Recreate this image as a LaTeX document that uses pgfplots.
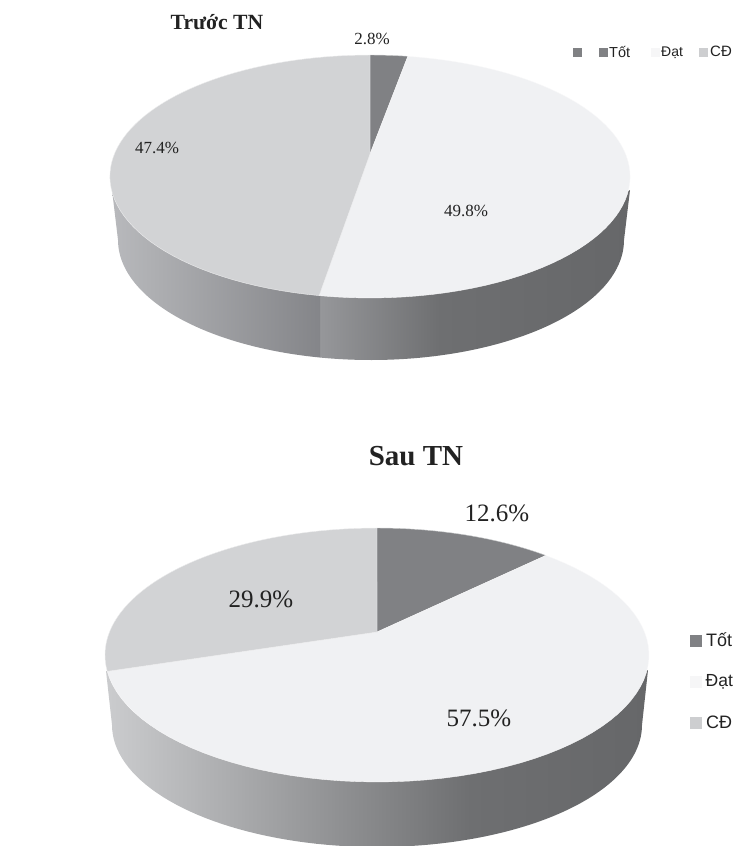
\documentclass[border=0pt]{standalone}
\usepackage{pgfplots}
\pgfplotsset{compat=1.18}
\usepackage{fontspec}
\setmainfont{Liberation Serif}
\newfontfamily\legfont{Liberation Sans}
\definecolor{tot}{HTML}{808184}
\definecolor{dat}{HTML}{F0F1F3}
\definecolor{cd}{HTML}{D2D3D5}
\definecolor{txt}{HTML}{222222}
\definecolor{legdat}{HTML}{F6F6F7}
\definecolor{legcd}{HTML}{CDCED0}
\definecolor{ra}{HTML}{B8B9BC}
\definecolor{rb}{HTML}{848589}
\definecolor{rc}{HTML}{96979A}
\definecolor{rd}{HTML}{6E6F71}
\definecolor{re}{HTML}{666769}
\definecolor{rf}{HTML}{CBCCCE}
\newcommand\fs[1]{\fontsize{#1}{#1}\selectfont}
% one slice of the top face: from / to cumulative percent, colour, then cx vy A B k
\newcommand\slice[8]{%
  \addplot[fill=#3,draw=white!60!#3,line width=0.4pt,line join=round,domain=#1:#2,samples=70,no markers]
  ({#4+#6*sin(3.6*x)/(1+#8*cos(3.6*x))},{#5-#7*cos(3.6*x)/(1+#8*cos(3.6*x))})
  -- (axis cs:#4,#5) -- cycle;}
\newcommand\topslice[3]{\slice{#1}{#2}{#3}{370}{154}{255.6}{117.3}{0.1852}}
\newcommand\botslice[3]{\slice{#1}{#2}{#3}{377}{632}{267.5}{122.8}{0.1811}}
% one shaded band of the rim: angle from/to, left colour, right colour, cx cy a b, closing path
\newcommand\rim[9]{%
  \addplot[left color=#3,right color=#4,draw=none,domain=#1:#2,samples=50,no markers]
  ({#5+#7*cos(x)},{#6+#8*sin(x)}) #9 -- cycle;}
\begin{document}
\begin{tikzpicture}[x=1pt,y=1pt]
\useasboundingbox (0,0) rectangle (733,846);
\clip (0,0) rectangle (733,846);
\begin{axis}[at={(0,0)},anchor=south west,scale only axis,width=733pt,height=846pt,
  xmin=0,xmax=733,ymin=0,ymax=846,y dir=reverse,hide axis,clip=false]
% ---- Truoc TN: rim
\rim{0}{74.2}{rd}{re}{371}{240}{253}{120}{-- (axis cs:440,285) -- (axis cs:630,190)}
\rim{74.2}{101.6}{rc}{rd}{371}{240}{253}{120}{-- (axis cs:320,290) -- (axis cs:440,285)}
\rim{101.6}{180}{ra}{rb}{371}{240}{253}{120}{-- (axis cs:112,190) -- (axis cs:320,290)}
% top face: 2.8, 49.8, 47.4 percent
\topslice{0}{2.8}{tot}
\topslice{2.8}{52.6}{dat}
\topslice{52.6}{100}{cd}
% ---- Sau TN: rim
\rim{0}{69.5}{rd}{re}{377}{725}{265}{122}{-- (axis cs:470,760) -- (axis cs:648,670)}
\rim{69.5}{180}{rf}{rd}{377}{725}{265}{122}{-- (axis cs:106,671) -- (axis cs:470,760)}
% top face: 12.6, 57.5, 29.9 percent
\botslice{0}{12.6}{tot}
\botslice{12.6}{70.1}{dat}
\botslice{70.1}{100}{cd}
% legend marks
\addplot[only marks,mark=square*,mark size=4.2pt,color=tot] coordinates {(577,52) (603,52)};
\addplot[only marks,mark=square*,mark size=4.2pt,color=legdat] coordinates {(655,52)};
\addplot[only marks,mark=square*,mark size=4.2pt,color=legcd] coordinates {(703,52)};
\addplot[only marks,mark=square*,mark size=5.6pt,color=tot] coordinates {(696,640.5)};
\addplot[only marks,mark=square*,mark size=5.6pt,color=legdat] coordinates {(696,682)};
\addplot[only marks,mark=square*,mark size=5.6pt,color=legcd] coordinates {(696,723)};
% texts
\node[text=txt,font=\bfseries\fs{21.7}] at (axis cs:217,22) {Trước TN};
\node[text=txt,font=\fs{17}] at (axis cs:372,39) {2.8\%};
\node[text=txt,font=\fs{17}] at (axis cs:157,148) {47.4\%};
\node[text=txt,font=\fs{17}] at (axis cs:466,211) {49.8\%};
\node[text=txt,font=\bfseries\fs{29}] at (axis cs:416,456) {Sau TN};
\node[text=txt,font=\fs{25}] at (axis cs:497,513) {12.6\%};
\node[text=txt,font=\fs{25}] at (axis cs:261,599) {29.9\%};
\node[text=txt,font=\fs{25}] at (axis cs:479,718) {57.5\%};
\node[text=txt,font=\legfont\fs{14.5},anchor=west,inner sep=0pt] at (axis cs:609,52) {Tốt};
\node[text=txt,font=\legfont\fs{14},anchor=west,inner sep=0pt] at (axis cs:661,53) {Đạt};
\node[text=txt,font=\legfont\fs{15},anchor=west,inner sep=0pt] at (axis cs:710,51) {CĐ};
\node[text=txt,font=\legfont\fs{18},anchor=west,inner sep=0pt] at (axis cs:706,640) {Tốt};
\node[text=txt,font=\legfont\fs{17.5},anchor=west,inner sep=0pt] at (axis cs:705.5,682) {Đạt};
\node[text=txt,font=\legfont\fs{18},anchor=west,inner sep=0pt] at (axis cs:706,722) {CĐ};
\end{axis}
\end{tikzpicture}
\end{document}
